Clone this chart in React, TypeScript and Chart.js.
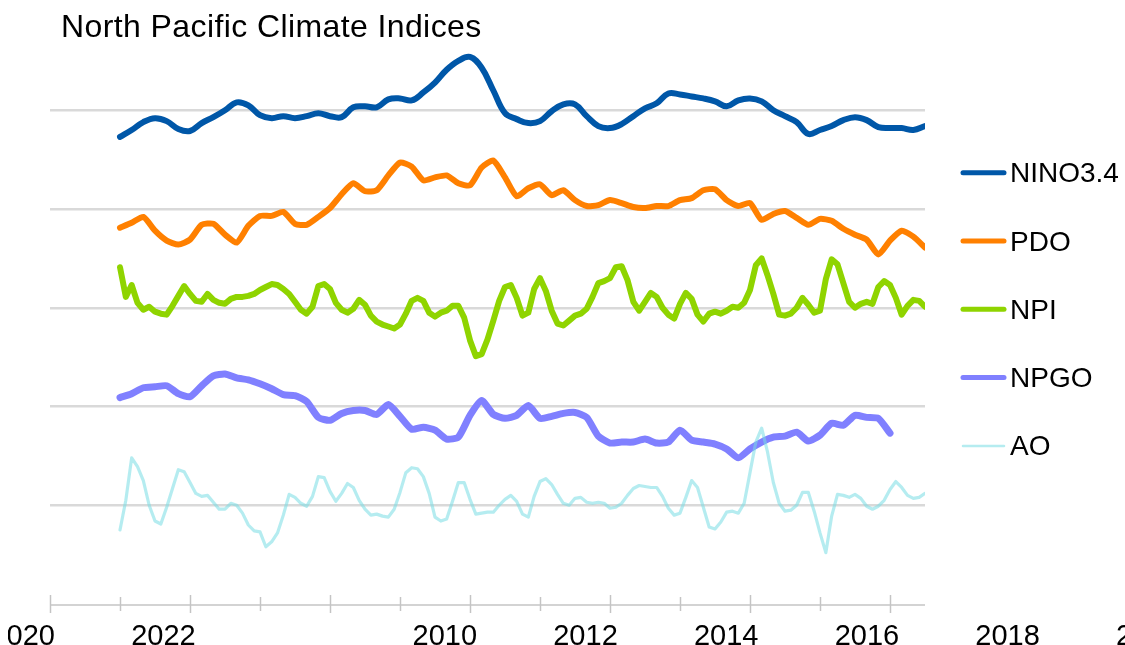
import React, { useEffect, useRef } from 'react';
import { Chart, registerables } from 'chart.js';

Chart.register(...registerables);

// ---------- text ----------
const TITLE = 'North Pacific Climate Indices';
const SERIES_NAMES = ['NINO3.4', 'PDO', 'NPI', 'NPGO', 'AO'];

// ---------- x axis (axis units = years from first tick) ----------
const AXIS_MIN = 0;
const AXIS_MAX = 12.5;
const X_TICKS = [0, 1, 2, 3, 4, 5, 6, 7, 8, 9, 10, 11, 12];
const X_LABELS = ['2020', '2022', '', '2010', '2012', '2014', '2016', '2018', '2020'];
const X_LABEL_START = -0.39;
const X_LABEL_STEP = 2.01;
const DATA_START = 1;
const BIMONTHLY = 1 / 6;
const MONTHLY = 1 / 12;

// ---------- y axis ----------
const Y_MIN = 0;
const Y_MAX = 6;
const Y_GRID = [1, 2, 3, 4, 5];
const SERIES_BASELINES = [5, 4, 3, 2, 1];

// ---------- series (anomalies relative to each series' baseline) ----------
const NINO34 = [
  -0.27, -0.2, -0.12, -0.08, -0.11, -0.19, -0.21, -0.13, -0.07, 0.0,
  0.08, 0.05, -0.05, -0.08, -0.06, -0.08, -0.06, -0.03, -0.06, -0.07,
  0.03, 0.04, 0.03, 0.11, 0.12, 0.1, 0.18, 0.28, 0.41, 0.5,
  0.54, 0.43, 0.2, -0.03, -0.09, -0.13, -0.11, -0.01, 0.06, 0.06,
  -0.06, -0.16, -0.18, -0.14, -0.06, 0.02, 0.07, 0.17, 0.16, 0.14,
  0.12, 0.09, 0.04, 0.1, 0.12, 0.09, 0.0, -0.06, -0.12, -0.24,
  -0.2, -0.16, -0.1, -0.07, -0.1, -0.17, -0.18, -0.18, -0.2, -0.16,
];

const PDO = [
  -0.19, -0.14, -0.08, -0.22, -0.32, -0.36, -0.31, -0.16, -0.15, -0.26,
  -0.34, -0.17, -0.07, -0.07, -0.03, -0.15, -0.16, -0.08, 0.01, 0.15,
  0.26, 0.18, 0.19, 0.34, 0.47, 0.43, 0.29, 0.32, 0.34, 0.26,
  0.24, 0.42, 0.49, 0.32, 0.13, 0.21, 0.25, 0.14, 0.19, 0.09,
  0.03, 0.04, 0.09, 0.06, 0.02, 0.01, 0.03, 0.03, 0.09, 0.11,
  0.19, 0.2, 0.09, 0.03, 0.06, -0.11, -0.05, -0.02, -0.09, -0.16,
  -0.1, -0.12, -0.2, -0.26, -0.31, -0.46, -0.32, -0.22, -0.28, -0.39,
];

const NPI = [
  0.41, 0.11, 0.23, 0.05, -0.02, 0.01, -0.04, -0.06, -0.07, 0.02,
  0.12, 0.22, 0.14, 0.07, 0.06, 0.14, 0.08, 0.05, 0.04, 0.09,
  0.11, 0.11, 0.12, 0.14, 0.18, 0.21, 0.24, 0.23, 0.19, 0.14,
  0.06, -0.02, -0.06, 0.01, 0.22, 0.24, 0.19, 0.05, -0.02, -0.05,
  -0.01, 0.08, 0.03, -0.08, -0.14, -0.17, -0.19, -0.21, -0.17, -0.06,
  0.07, 0.1, 0.07, -0.05, -0.09, -0.05, -0.03, 0.02, 0.02, -0.1,
  -0.33, -0.49, -0.47, -0.32, -0.13, 0.07, 0.21, 0.23, 0.1, -0.08,
  -0.05, 0.19, 0.3, 0.17, -0.03, -0.16, -0.18, -0.13, -0.08, -0.06,
  -0.01, 0.11, 0.25, 0.27, 0.3, 0.41, 0.42, 0.28, 0.06, -0.03,
  0.06, 0.15, 0.11, 0.0, -0.07, -0.11, 0.04, 0.15, 0.09, -0.07,
  -0.14, -0.06, -0.04, -0.06, -0.03, 0.01, 0.0, 0.05, 0.18, 0.43,
  0.5, 0.33, 0.14, -0.07, -0.08, -0.06, 0.0, 0.1, 0.03, -0.05,
  -0.03, 0.29, 0.49, 0.44, 0.25, 0.06, 0.0, 0.04, 0.06, 0.04,
  0.21, 0.27, 0.23, 0.1, -0.07, 0.02, 0.08, 0.07, 0.01,
];

const NPGO = [
  0.09, 0.13, 0.19, 0.2, 0.21, 0.13, 0.1, 0.21, 0.31, 0.33,
  0.29, 0.27, 0.23, 0.18, 0.12, 0.11, 0.05, -0.11, -0.14, -0.07,
  -0.04, -0.04, -0.08, 0.02, -0.1, -0.23, -0.21, -0.24, -0.33, -0.31,
  -0.09, 0.06, -0.08, -0.12, -0.09, 0.01, -0.12, -0.1, -0.07, -0.06,
  -0.11, -0.3, -0.37, -0.36, -0.36, -0.33, -0.37, -0.36, -0.24, -0.34,
  -0.36, -0.38, -0.43, -0.52, -0.43, -0.36, -0.31, -0.3, -0.26, -0.35,
  -0.29, -0.17, -0.19, -0.09, -0.11, -0.12, -0.27,
];

const AO = [
  -0.25, 0.05, 0.48, 0.39, 0.25, 0.0, -0.16, -0.19, -0.02, 0.17,
  0.36, 0.34, 0.23, 0.12, 0.09, 0.1, 0.03, -0.04, -0.04, 0.02,
  0.0, -0.08, -0.2, -0.26, -0.27, -0.42, -0.37, -0.28, -0.1, 0.11,
  0.08, 0.02, -0.01, 0.09, 0.29, 0.28, 0.14, 0.04, 0.12, 0.22,
  0.18, 0.05, -0.04, -0.1, -0.09, -0.11, -0.12, -0.04, 0.13, 0.33,
  0.38, 0.37, 0.29, 0.12, -0.12, -0.16, -0.14, 0.04, 0.23, 0.23,
  0.06, -0.09, -0.08, -0.07, -0.07, 0.0, 0.06, 0.1, 0.04, -0.09,
  -0.12, 0.09, 0.24, 0.27, 0.21, 0.11, 0.02, 0.0, 0.07, 0.08,
  0.03, 0.02, 0.03, 0.02, -0.03, -0.02, 0.02, 0.1, 0.17, 0.2,
  0.19, 0.18, 0.18, 0.09, -0.03, -0.1, -0.08, 0.08, 0.25, 0.18,
  -0.02, -0.22, -0.24, -0.17, -0.07, -0.06, -0.08, 0.02, 0.33, 0.64,
  0.78, 0.54, 0.23, 0.02, -0.06, -0.05, 0.0, 0.13, 0.13, -0.06,
  -0.28, -0.48, -0.11, 0.11, 0.1, 0.08, 0.11, 0.07, -0.01, -0.04,
  -0.01, 0.05, 0.16, 0.24, 0.18, 0.1, 0.07, 0.08, 0.12,
];

const SERIES_DATA = [NINO34, PDO, NPI, NPGO, AO];
const SERIES_STEPS = [BIMONTHLY, BIMONTHLY, MONTHLY, BIMONTHLY, MONTHLY];

// ---------- styles ----------
const SERIES_COLORS = ['#0057a8', '#ff8000', '#8fd400', '#8080ff', 'rgba(120,220,228,0.55)'];
const SERIES_WIDTHS = [6, 6, 6, 7, 3.2];
const LEGEND_WIDTHS = [5, 5, 5, 5, 2.5];
const SERIES_TENSION = [0.4, 0.2, 0, 0.2, 0];
const FONT = '"Liberation Sans", Arial, Helvetica, sans-serif';
const AXIS_COLOR = '#c4c4c4';
const GRID_COLOR = '#d9d9d9';

const decorPlugin = {
  id: 'decor',
  afterDraw(chart: any) {
    const ctx: CanvasRenderingContext2D = chart.ctx;
    const xs = chart.scales.x;
    const axisY = chart.chartArea.bottom + 1;
    ctx.save();

    // x axis line and tick marks
    ctx.strokeStyle = AXIS_COLOR;
    ctx.lineWidth = 1.5;
    ctx.beginPath();
    ctx.moveTo(xs.getPixelForValue(AXIS_MIN), axisY);
    ctx.lineTo(xs.getPixelForValue(AXIS_MAX), axisY);
    ctx.stroke();
    X_TICKS.forEach((t) => {
      const px = Math.round(xs.getPixelForValue(t)) + 0.5;
      const major = t % 2 === 0;
      ctx.beginPath();
      ctx.moveTo(px, axisY - (major ? 10 : 8));
      ctx.lineTo(px, axisY + (major ? 8 : 6));
      ctx.stroke();
    });

    // x tick labels (the label strip starts a few pixels in from the left edge)
    ctx.save();
    ctx.beginPath();
    ctx.rect(8, axisY + 10, chart.width - 8, chart.height - axisY);
    ctx.clip();
    ctx.fillStyle = '#000';
    ctx.font = `29px ${FONT}`;
    ctx.textAlign = 'center';
    ctx.textBaseline = 'alphabetic';
    X_LABELS.forEach((lab, k) => {
      if (!lab) return;
      ctx.fillText(lab, xs.getPixelForValue(X_LABEL_START + k * X_LABEL_STEP), 645);
    });
    ctx.restore();

    // title
    ctx.fillStyle = '#000';
    ctx.textAlign = 'left';
    ctx.textBaseline = 'alphabetic';
    ctx.font = `32px ${FONT}`;
    (ctx as any).letterSpacing = '0.4px';
    ctx.fillText(TITLE, 61, 37);
    (ctx as any).letterSpacing = '0px';

    // legend
    ctx.font = `28px ${FONT}`;
    SERIES_NAMES.forEach((name, i) => {
      const cy = 172.7 + i * 68.3;
      ctx.strokeStyle = SERIES_COLORS[i];
      ctx.lineWidth = LEGEND_WIDTHS[i];
      ctx.lineCap = 'round';
      ctx.beginPath();
      ctx.moveTo(963, cy);
      ctx.lineTo(1004, cy);
      ctx.stroke();
      ctx.fillStyle = '#000';
      ctx.fillText(name, 1010, cy + 9.5);
    });

    ctx.restore();
  },
};

export default function App() {
  const canvasRef = useRef<HTMLCanvasElement | null>(null);

  useEffect(() => {
    if (!canvasRef.current) return;
    const datasets = SERIES_NAMES.map((name, i) => ({
      label: name,
      data: SERIES_DATA[i].map((v, j) => ({
        x: DATA_START + j * SERIES_STEPS[i],
        y: v + SERIES_BASELINES[i],
      })),
      borderColor: SERIES_COLORS[i],
      backgroundColor: SERIES_COLORS[i],
      borderWidth: SERIES_WIDTHS[i],
      tension: SERIES_TENSION[i],
      pointRadius: 0,
      borderCapStyle: 'round' as const,
      borderJoinStyle: 'round' as const,
      fill: false,
      order: i === 4 ? 0 : 1,
    }));

    const chart = new Chart(canvasRef.current, {
      type: 'line',
      data: { datasets },
      options: {
        responsive: false,
        animation: false,
        events: [],
        layout: { padding: { left: 50, right: 200, top: 11.5, bottom: 41 } },
        plugins: {
          legend: { display: false },
          title: { display: false },
          tooltip: { enabled: false },
        },
        scales: {
          x: {
            type: 'linear',
            min: AXIS_MIN,
            max: AXIS_MAX,
            display: false,
          },
          y: {
            type: 'linear',
            min: Y_MIN,
            max: Y_MAX,
            border: { display: false },
            ticks: { display: false, stepSize: 1 },
            grid: {
              drawTicks: false,
              lineWidth: 2.5,
              color: (c: any) =>
                c.tick && Y_GRID.includes(c.tick.value) ? GRID_COLOR : 'rgba(0,0,0,0)',
            },
          },
        },
      },
      plugins: [decorPlugin],
    });
    return () => chart.destroy();
  }, []);

  return (
    <div style={{ position: 'absolute', left: 0, top: 0, width: 1125, height: 645, background: '#fff' }}>
      <canvas ref={canvasRef} width={1125} height={645} style={{ display: 'block' }} />
    </div>
  );
}
